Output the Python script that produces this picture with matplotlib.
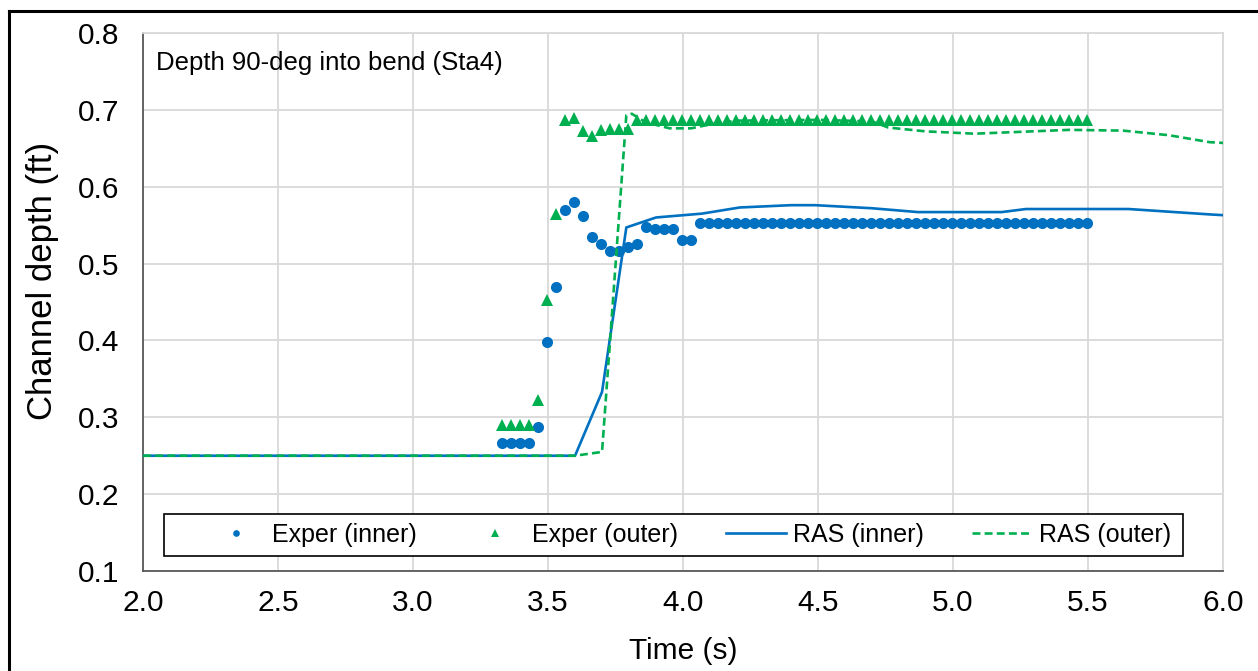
import matplotlib
matplotlib.use("Agg")
import matplotlib.pyplot as plt
from matplotlib.lines import Line2D
from matplotlib.patches import Rectangle

plt.rcParams['font.family'] = ['Liberation Sans', 'DejaVu Sans']

exp_time = [3.330, 3.363, 3.397, 3.430, 3.463, 3.497, 3.530, 3.563, 3.597, 3.630,
            3.663, 3.697, 3.730, 3.763, 3.797, 3.830, 3.863, 3.897, 3.930, 3.963,
            3.997, 4.030, 4.063, 4.097, 4.130, 4.163, 4.197, 4.230, 4.263, 4.297,
            4.330, 4.363, 4.397, 4.430, 4.463, 4.497, 4.530, 4.563, 4.597, 4.630,
            4.663, 4.697, 4.730, 4.763, 4.797, 4.830, 4.863, 4.897, 4.930, 4.963,
            4.997, 5.030, 5.063, 5.097, 5.130, 5.163, 5.197, 5.230, 5.263, 5.297,
            5.330, 5.363, 5.397, 5.430, 5.463, 5.497]
exp_inner = [0.266, 0.266, 0.266, 0.266, 0.288, 0.398, 0.469, 0.570, 0.580, 0.562,
             0.535, 0.525, 0.517, 0.517, 0.522, 0.525, 0.547, 0.545, 0.545, 0.545,
             0.531, 0.531, 0.553, 0.553, 0.553, 0.553, 0.553, 0.553, 0.553, 0.553,
             0.553, 0.553, 0.553, 0.553, 0.553, 0.553, 0.553, 0.553, 0.553, 0.553,
             0.553, 0.553, 0.553, 0.553, 0.553, 0.553, 0.553, 0.553, 0.553, 0.553,
             0.553, 0.553, 0.553, 0.553, 0.553, 0.553, 0.553, 0.553, 0.553, 0.553,
             0.553, 0.553, 0.553, 0.553, 0.553, 0.553]
exp_outer = [0.290, 0.290, 0.290, 0.290, 0.322, 0.453, 0.565, 0.687, 0.690, 0.673,
             0.666, 0.674, 0.675, 0.675, 0.675, 0.687, 0.687, 0.687, 0.687, 0.687,
             0.687, 0.687, 0.687, 0.687, 0.687, 0.687, 0.687, 0.687, 0.687, 0.687,
             0.687, 0.687, 0.687, 0.687, 0.687, 0.687, 0.687, 0.687, 0.687, 0.687,
             0.687, 0.687, 0.687, 0.687, 0.687, 0.687, 0.687, 0.687, 0.687, 0.687,
             0.687, 0.687, 0.687, 0.687, 0.687, 0.687, 0.687, 0.687, 0.687, 0.687,
             0.687, 0.687, 0.687, 0.687, 0.687, 0.687]

# RAS model results
ras_in_time = [2.00, 3.60, 3.70, 3.79, 3.90, 4.07, 4.21, 4.40, 4.49, 4.70,
               4.87, 5.18, 5.27, 5.65, 5.95, 6.00]
ras_inner = [0.250, 0.250, 0.333, 0.547, 0.560, 0.565, 0.573, 0.576, 0.576, 0.572,
             0.567, 0.567, 0.571, 0.571, 0.564, 0.563]
ras_out_time = [2.00, 3.60, 3.70, 3.79, 3.81, 3.86, 3.95, 4.03, 4.10, 4.20,
                4.50, 4.70, 4.76, 4.90, 5.08, 5.43, 5.63, 5.80, 5.95, 6.00]
ras_outer = [0.250, 0.250, 0.255, 0.693, 0.695, 0.684, 0.676, 0.676, 0.681, 0.686,
             0.687, 0.685, 0.677, 0.672, 0.669, 0.674, 0.673, 0.667, 0.658, 0.657]

blue = '#0070C0'
green = '#00B050'

fig = plt.figure(figsize=(12.58, 6.71), dpi=100)
ax = fig.add_axes([0.1137, 0.149, 0.8585, 0.8018])

ax.plot(exp_time, exp_inner, 'o', color=blue, ms=8, mew=0, label='Exper (inner)', zorder=3)
ax.plot(exp_time, exp_outer, '^', color=green, ms=9, mew=0, label='Exper (outer)', zorder=3)
ax.plot(ras_in_time, ras_inner, '-', color=blue, lw=1.9, label='RAS (inner)', zorder=4)
ax.plot(ras_out_time, ras_outer, '--', color=green, lw=1.9, dashes=(3, 1.6), label='RAS (outer)', zorder=4)

ax.set_xlim(2.0, 6.0)
ax.set_ylim(0.1, 0.8)
ax.set_xticks([2.0, 2.5, 3.0, 3.5, 4.0, 4.5, 5.0, 5.5, 6.0])
ax.set_yticks([0.1, 0.2, 0.3, 0.4, 0.5, 0.6, 0.7, 0.8])
ax.xaxis.set_major_formatter(matplotlib.ticker.FormatStrFormatter('%.1f'))
ax.yaxis.set_major_formatter(matplotlib.ticker.FormatStrFormatter('%.1f'))
ax.tick_params(length=0, labelsize=21.5)
ax.tick_params(axis='y', pad=17)
ax.tick_params(axis='x', pad=13)
ax.grid(True, color='#d9d9d9', lw=1.3)
ax.set_axisbelow(True)

for s in ['top', 'right']:
    ax.spines[s].set_color('#d9d9d9')
    ax.spines[s].set_linewidth(1.3)
for s in ['left', 'bottom']:
    ax.spines[s].set_color('#595959')
    ax.spines[s].set_linewidth(1.3)

ax.set_ylabel('Channel depth (ft)', fontsize=25)
ax.yaxis.set_label_coords(-0.078, 0.539)
ax.set_xlabel('Time (s)', fontsize=21.5, labelpad=14)

ax.text(0.012, 0.945, 'Depth 90-deg into bend (Sta4)', transform=ax.transAxes,
        fontsize=18.5, va='center', ha='left')

# legend: box drawn separately so its width matches the original
ax.add_patch(Rectangle((0.019, 0.028), 0.944, 0.078, transform=ax.transAxes,
                       facecolor='white', edgecolor='black', lw=1.2, zorder=5))
leg = ax.legend(loc='center left', bbox_to_anchor=(0.058, 0.067),
                ncol=4, fontsize=18, frameon=False, markerscale=0.6,
                handlelength=2.4, handletextpad=0.25, columnspacing=1.95,
                borderpad=0, borderaxespad=0)
leg.set_zorder(6)

# outer chart border (top and left visible)
fig.add_artist(Line2D([0.007, 1.0], [0.984, 0.984], color='black', lw=2.2, transform=fig.transFigure))
fig.add_artist(Line2D([0.007, 0.007], [0.0, 0.984], color='black', lw=2.2, transform=fig.transFigure))

fig.savefig('out.png', dpi=100)
